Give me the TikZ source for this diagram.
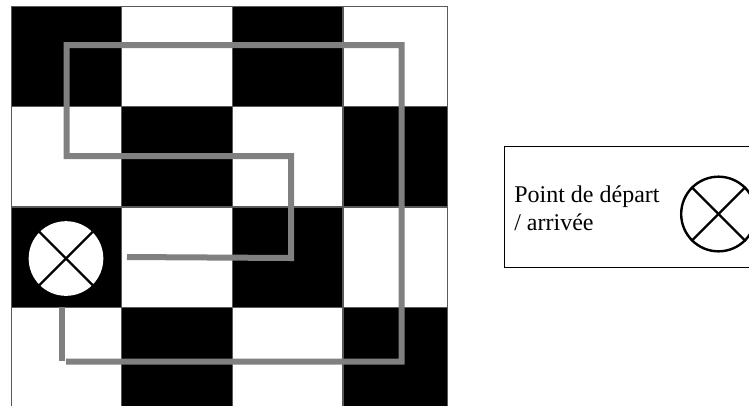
\documentclass[tikz,border=0pt]{standalone}
\usepackage{fontspec}
\setmainfont{Liberation Serif}
\usetikzlibrary{positioning}

\begin{document}
\begin{tikzpicture}[x=0.75pt, y=-0.75pt,
  blackcell/.style={draw=black!65, fill=black, line width=0.6pt, minimum width=83pt, minimum height=75pt, inner sep=0pt},
  whitecell/.style={draw=black!65, fill=white, line width=0.6pt, minimum width=83pt, minimum height=75pt, inner sep=0pt},
  route/.style={draw=black!50, line width=4.5pt},
  crossmark/.style={circle, fill=white, minimum size=56pt, inner sep=0pt},
  crossline/.style={draw=black, line width=1.8pt},
  legend/.style={draw=black, line width=1.2pt, minimum width=240pt, minimum height=91pt, inner sep=0pt}
]
\useasboundingbox (0,0) rectangle (749,405);
\clip (0,0) rectangle (749,405);

% First row
\node[blackcell] (cell_a1) at (66.5,56) {};
\node[whitecell] (cell_b1) at (177,56) {};
\node[blackcell] (cell_c1) at (287.5,56) {};
\node[whitecell, minimum width=78pt] (cell_d1) at (395,56) {};

% Second row
\node[whitecell] (cell_a2) at (66.5,156) {};
\node[blackcell] (cell_b2) at (177,156) {};
\node[whitecell] (cell_c2) at (287.5,156) {};
\node[blackcell, minimum width=78pt] (cell_d2) at (395,156) {};

% Third row
\node[blackcell] (cell_a3) at (66.5,257) {};
\node[whitecell] (cell_b3) at (177,257) {};
\node[blackcell] (cell_c3) at (287.5,257) {};
\node[whitecell, minimum width=78pt] (cell_d3) at (395,257) {};

% Fourth row
\node[whitecell] (cell_a4) at (66.5,357) {};
\node[blackcell] (cell_b4) at (177,357) {};
\node[whitecell] (cell_c4) at (287.5,357) {};
\node[blackcell, minimum width=78pt] (cell_d4) at (395,357) {};

% Route
\coordinate (route_start) at (127,257);
\coordinate (route_b) at (291,258);
\coordinate (route_c) at (291,156);
\coordinate (route_d) at (66.5,156);
\coordinate (route_e) at (66.5,45);
\coordinate (route_f) at (401.5,45);
\coordinate (route_g) at (401.5,361.5);
\coordinate (route_h) at (66,361.5);
\coordinate (stub_top) at (61.5,307);
\coordinate (stub_bot) at (61.5,361);
\draw[route] (route_start) -- (route_b) -- (route_c) -- (route_d) -- (route_e) -- (route_f) -- (route_g) -- (route_h);
\draw[route] (stub_top) -- (stub_bot);

% Start mark
\node[crossmark] (start_mark) at (66,258.5) {};
\draw[crossline] (start_mark.north west) -- (start_mark.south east);
\draw[crossline] (start_mark.north east) -- (start_mark.south west);

% Legend
\node[legend] (legend_box) at (664.5,207) {};
\node[anchor=west, align=left, font=\fontsize{18pt}{21pt}\selectfont, inner sep=0pt] (legend_text) at (514,208.5) {Point de départ\\/ arrivée};
\node[crossmark, draw=black, line width=1.8pt] (legend_mark) at (718.5,214) {};
\draw[crossline] (legend_mark.north west) -- (legend_mark.south east);
\draw[crossline] (legend_mark.north east) -- (legend_mark.south west);

\end{tikzpicture}
\end{document}
